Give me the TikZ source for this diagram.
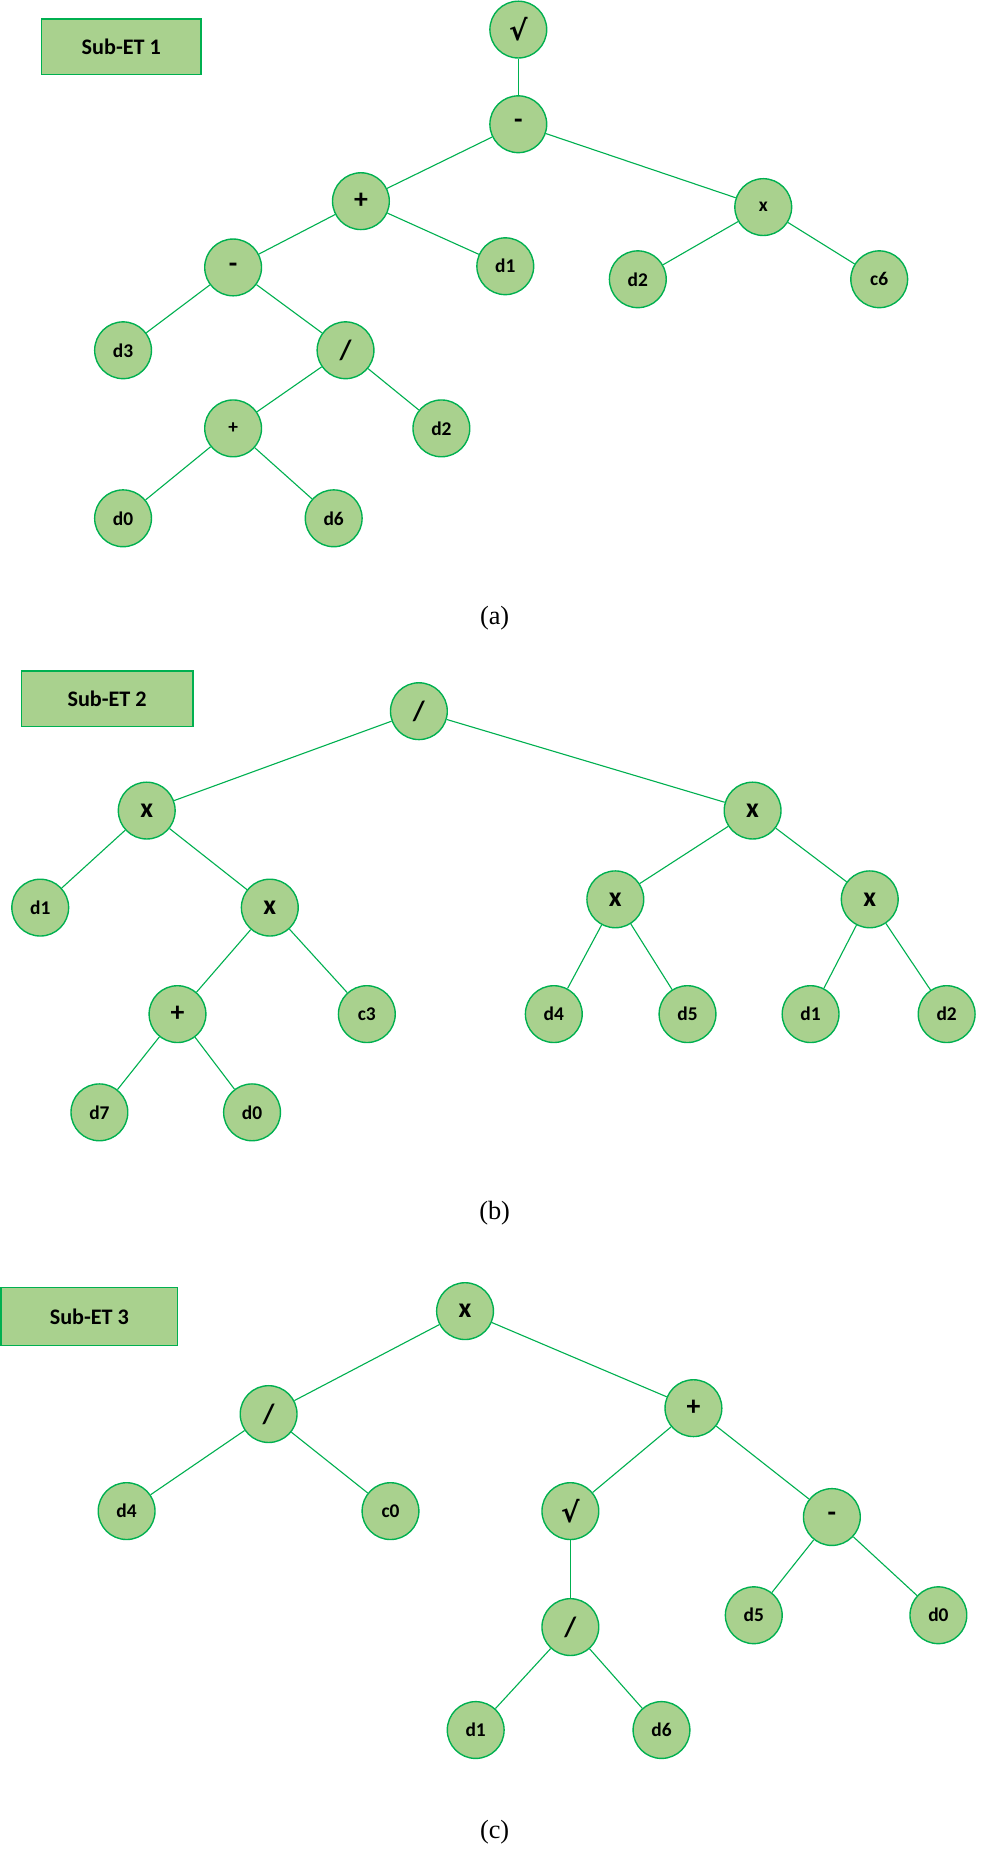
\documentclass[tikz,border=0pt]{standalone}
\usepackage{fontspec}
\setmainfont{Liberation Serif}
\newfontfamily\carfont{Carlito}
\newfontfamily\dvfont{DejaVu Sans}
\definecolor{nfill}{HTML}{A9D18E}
\definecolor{nline}{HTML}{00B050}
\begin{document}
\begin{tikzpicture}[x=0.03cm,y=-0.03cm,
  nd/.style={circle,draw=nline,fill=nfill,line width=1pt,minimum size=1.44cm,inner sep=0pt,font=\carfont\bfseries\fontsize{14}{16}\selectfont},
  bg/.style={nd,font=\carfont\bfseries\fontsize{20}{22}\selectfont},
  lbl/.style={draw=nline,fill=nfill,line width=1pt,inner sep=0pt,font=\carfont\bfseries\fontsize{16}{18}\selectfont},
  captext/.style={font=\fontsize{19}{22}\selectfont},
  e/.style={draw=nline,line width=0.8pt}]
\useasboundingbox (0,0) rectangle (830,1571);
% (a)
\node[lbl,minimum width=4.05cm,minimum height=1.41cm] (la) at (102.5,39.5) {Sub-ET 1};
\node[bg] (a1) at (438,25) {\dvfont\textbf{√}};
\node[bg] (a2) at (438,105) {-};
\node[bg] (a3) at (305,170) {+};
\node[nd] (a4) at (645,175) {x};
\node[bg] (a5) at (197,226) {-};
\node[nd] (a6) at (427,225) {d1};
\node[nd] (a7) at (539,236) {d2};
\node[nd] (a8) at (743,236) {c6};
\node[nd] (a9) at (104,296) {d3};
\node[bg] (a10) at (292,296) {/};
\node[nd] (a11) at (197,362) {+};
\node[nd] (a12) at (373,362) {d2};
\node[nd] (a13) at (104,438) {d0};
\node[nd] (a14) at (282,438) {d6};
\foreach \p/\c in {a1/a2,a2/a3,a2/a4,a3/a5,a3/a6,a4/a7,a4/a8,a5/a9,a5/a10,a10/a11,a10/a12,a11/a13,a11/a14}
  \draw[e] (\p) -- (\c);
\node[captext] (ca) at (418,522) {(a)};
% (b)
\node[lbl,minimum width=4.35cm,minimum height=1.41cm] (lb) at (90.5,590.5) {Sub-ET 2};
\node[bg] (b1) at (354,601) {/};
\node[bg] (b2) at (124,685) {x};
\node[bg] (b3) at (636,685) {x};
\node[nd] (b4) at (34,767) {d1};
\node[bg] (b5) at (228,767) {x};
\node[bg] (b6) at (520,760) {x};
\node[bg] (b7) at (735,760) {x};
\node[bg] (b8) at (150,857) {+};
\node[nd] (b9) at (310,857) {c3};
\node[nd] (b10) at (468,857) {d4};
\node[nd] (b11) at (581,857) {d5};
\node[nd] (b12) at (685,857) {d1};
\node[nd] (b13) at (800,857) {d2};
\node[nd] (b14) at (84,940) {d7};
\node[nd] (b15) at (213,940) {d0};
\foreach \p/\c in {b1/b2,b1/b3,b2/b4,b2/b5,b3/b6,b3/b7,b5/b8,b5/b9,b6/b10,b6/b11,b7/b12,b7/b13,b8/b14,b8/b15}
  \draw[e] (\p) -- (\c);
\node[captext] (cb) at (418,1025) {(b)};
% (c)
\node[lbl,minimum width=4.47cm,minimum height=1.47cm] (lc) at (75.5,1112.5) {Sub-ET 3};
\node[bg] (c1) at (393,1108) {x};
\node[bg] (c2) at (227,1195) {/};
\node[bg] (c3) at (586,1190) {+};
\node[nd] (c4) at (107,1277) {d4};
\node[nd] (c5) at (330,1277) {c0};
\node[bg] (c6) at (482,1277) {\dvfont\textbf{√}};
\node[bg] (c7) at (703,1282) {-};
\node[bg] (c8) at (482,1375) {/};
\node[nd] (c9) at (637,1365) {d5};
\node[nd] (c10) at (793,1365) {d0};
\node[nd] (c11) at (402,1462) {d1};
\node[nd] (c12) at (559,1462) {d6};
\foreach \p/\c in {c1/c2,c1/c3,c2/c4,c2/c5,c3/c6,c3/c7,c6/c8,c7/c9,c7/c10,c8/c11,c8/c12}
  \draw[e] (\p) -- (\c);
\node[captext] (cc) at (418,1548) {(c)};
\end{tikzpicture}
\end{document}
